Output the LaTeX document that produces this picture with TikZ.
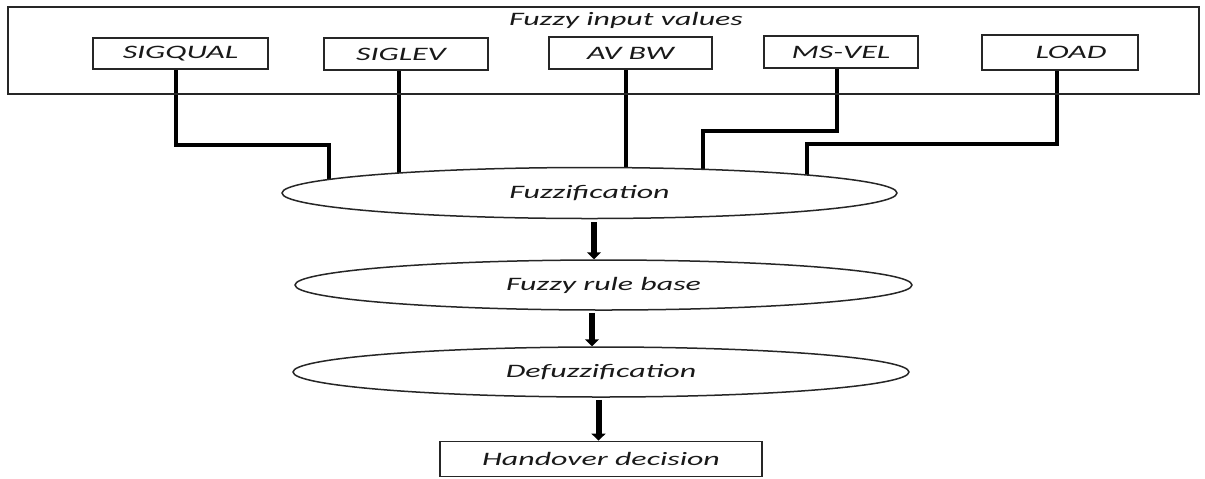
\documentclass[tikz,border=0pt]{standalone}
\usepackage{fontspec}
\newfontfamily\lblfont{Carlito}[FakeStretch=1.68]
\usetikzlibrary{arrows.meta,calc,shapes.geometric,backgrounds}

\begin{document}
\begin{tikzpicture}[x=0.5pt,y=-0.5pt,
  lbl/.style={font=\lblfont\itshape\fontsize{9.5pt}{11pt}\selectfont, text=black!90},
  inbox/.style={lbl, draw=black!85, line width=0.9pt, inner sep=0pt},
  stage/.style={lbl, ellipse, draw=black!85, line width=0.75pt, fill=white, inner sep=0pt},
  feed/.style={line width=1.75pt, black},
  flow/.style={line width=3pt, black, -{Triangle[width=7pt,length=3.5pt]}}]

\useasboundingbox (0,0) rectangle (1205,478);

% frame holding the input variables
\node[draw=black!85, line width=0.9pt, minimum width=595.5pt, minimum height=43.5pt, inner sep=0pt] (frame) at (603.5,50.5) {};
\node[lbl] (title) at (626,20) {Fuzzy input values};

% input variables
\node[inbox, minimum width=87.5pt, minimum height=15.5pt] (sq) at (180.5,53.5) {SIGQUAL};
\node[inbox, minimum width=82pt,   minimum height=16pt]   (sl) at (406,54)     {SIGLEV\hspace*{5pt}};
\node[inbox, minimum width=81.5pt, minimum height=16pt]   (bw) at (630.5,53)   {AV BW};
\node[inbox, minimum width=77pt,   minimum height=16pt]   (mv) at (841,52)     {MS-VEL};
\node[inbox, minimum width=78pt,   minimum height=17.5pt] (ld) at (1060,52.5)  {\hspace*{11pt}LOAD};

% processing stages
\node[stage, minimum width=307.5pt, minimum height=25.5pt] (fuzz)   at (589.5,193) {Fuzzification};
\node[stage, minimum width=308.5pt, minimum height=25pt]   (rule)   at (603.5,285) {Fuzzy rule base};
\node[stage, minimum width=308pt,   minimum height=25pt]   (defuzz) at (601,372)   {Defuzzification};
\node[inbox, minimum width=161pt,   minimum height=17.5pt] (hd)     at (601,459)   {Handover decision};

% feeds from the inputs into the fuzzifier (behind the ellipse)
\begin{scope}[on background layer]
  \coordinate (sqbend) at (329,145);
  \draw[feed] ($(sq.south)+(-4.5,0)$) |- (sqbend) -- (sqbend |- fuzz.center);
  \coordinate (slx) at ($(sl.south)+(-7,0)$);
  \draw[feed] (slx) -- (slx |- fuzz.center);
  \coordinate (bwx) at ($(bw.south)+(-4.5,0)$);
  \draw[feed] (bwx) -- (bwx |- fuzz.center);
  \coordinate (mvbend) at (703,131);
  \draw[feed] ($(mv.south)+(-4,0)$) |- (mvbend) -- (mvbend |- fuzz.center);
  \coordinate (ldbend) at (807,144);
  \draw[feed] ($(ld.south)+(-3,0)$) |- (ldbend) -- (ldbend |- fuzz.center);
\end{scope}

% flow between the stages
\draw[flow] ($(fuzz.south)+(4.5,3)$) coordinate (a1) -- (a1 |- rule.north);
\draw[flow] ($(rule.south)+(-11.5,2)$) coordinate (a2) -- (a2 |- defuzz.north);
\draw[flow] ($(defuzz.south)+(-2.5,2)$) coordinate (a3) -- (a3 |- hd.north);
\end{tikzpicture}
\end{document}
